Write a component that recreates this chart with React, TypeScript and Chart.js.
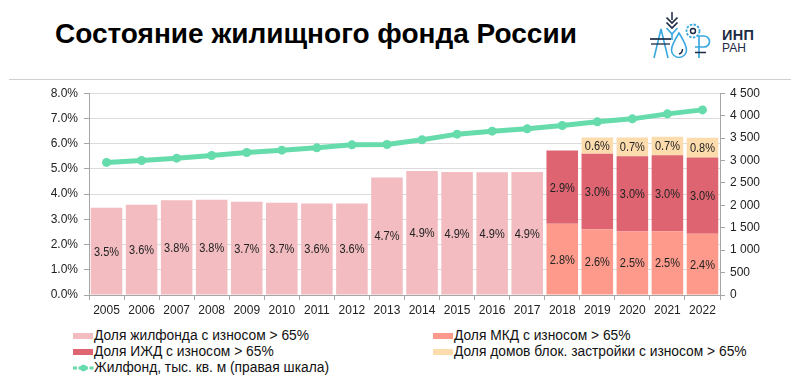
import React, { useEffect, useRef } from "react";
import { Chart, registerables } from "chart.js";

Chart.register(...registerables);

const years = ["2005","2006","2007","2008","2009","2010","2011","2012","2013","2014","2015","2016","2017","2018","2019","2020","2021","2022"];
const shareTotal = [3.46, 3.58, 3.76, 3.78, 3.70, 3.66, 3.63, 3.63, 4.66, 4.92, 4.88, 4.87, 4.88, null, null, null, null, null];
const shareMKD = [null, null, null, null, null, null, null, null, null, null, null, null, null, 2.82, 2.61, 2.52, 2.53, 2.43];
const shareIZD = [null, null, null, null, null, null, null, null, null, null, null, null, null, 2.91, 2.99, 2.98, 3.01, 3.02];
const shareBlock = [null, null, null, null, null, null, null, null, null, null, null, null, null, null, 0.64, 0.74, 0.73, 0.78];
const housingStock = [2956, 3000, 3052, 3112, 3178, 3230, 3282, 3349, 3356, 3460, 3587, 3653, 3705, 3780, 3861, 3928, 4039, 4128];

const leftTicks = [0, 1, 2, 3, 4, 5, 6, 7, 8];
const rightTicks = [0, 500, 1000, 1500, 2000, 2500, 3000, 3500, 4000, 4500];

const labelNames = [
  "Доля жилфонда с износом > 65%",
  "Доля МКД с износом > 65%",
  "Доля ИЖД с износом > 65%",
  "Доля домов блок. застройки с износом > 65%",
  "Жилфонд, тыс. кв. м (правая шкала)",
];

const COLORS = {
  total: "#f2bcc1",
  mkd: "#fd9a8b",
  izd: "#dd6470",
  block: "#fcdbad",
  line: "#66dbab",
};

const SANS = "'Liberation Sans', Arial, sans-serif";

const barLabelPlugin = {
  id: "barLabels",
  afterDatasetsDraw(chart: any) {
    const ctx = chart.ctx;
    chart.data.datasets.forEach((ds: any, di: number) => {
      if (ds.type !== "bar") return;
      const meta = chart.getDatasetMeta(di);
      meta.data.forEach((el: any, i: number) => {
        const v = ds.data[i];
        if (v == null) return;
        const y = (el.y + el.base) / 2 + 1;
        ctx.save();
        ctx.font = `12.5px ${SANS}`;
        ctx.fillStyle = "#222";
        ctx.textAlign = "center";
        ctx.textBaseline = "middle";
        ctx.translate(el.x, y);
        ctx.scale(0.88, 1);
        ctx.fillText(v.toFixed(1) + "%", 0, 0);
        ctx.restore();
      });
    });
  },
};

function ChartCanvas() {
  const ref = useRef<HTMLCanvasElement>(null);
  useEffect(() => {
    const canvas = ref.current!;
    const chart = new Chart(canvas, {
      type: "bar",
      data: {
        labels: years,
        datasets: [
          { type: "line", label: labelNames[4], data: housingStock, yAxisID: "y2", borderColor: COLORS.line, backgroundColor: COLORS.line, borderWidth: 5, pointRadius: 4.5, pointBackgroundColor: COLORS.line, pointBorderWidth: 0, order: 0, tension: 0 } as any,
          { type: "bar", label: labelNames[0], data: shareTotal, backgroundColor: COLORS.total, yAxisID: "y", stack: "s", order: 1, barPercentage: 0.9, categoryPercentage: 1 } as any,
          { type: "bar", label: labelNames[1], data: shareMKD, backgroundColor: COLORS.mkd, yAxisID: "y", stack: "s", order: 1, barPercentage: 0.9, categoryPercentage: 1 } as any,
          { type: "bar", label: labelNames[2], data: shareIZD, backgroundColor: COLORS.izd, yAxisID: "y", stack: "s", order: 1, barPercentage: 0.9, categoryPercentage: 1 } as any,
          { type: "bar", label: labelNames[3], data: shareBlock, backgroundColor: COLORS.block, yAxisID: "y", stack: "s", order: 1, barPercentage: 0.9, categoryPercentage: 1 } as any,
        ],
      },
      options: {
        responsive: false,
        animation: false,
        layout: { padding: { top: 13, left: 0, right: 0, bottom: 0 } },
        plugins: { legend: { display: false }, tooltip: { enabled: false } },
        scales: {
          x: {
            stacked: true,
            offset: true,
            grid: { offset: true, drawOnChartArea: false, tickLength: 5, color: "#a6a6a6" },
            border: { color: "#a6a6a6" },
            ticks: { color: "#222", font: { family: SANS, size: 12 }, padding: 3, maxRotation: 0, autoSkip: false },
            afterFit: (s: any) => { s.height = 25; },
          },
          y: {
            position: "left",
            stacked: true,
            min: 0,
            max: 8,
            afterBuildTicks: (s: any) => { s.ticks = leftTicks.map((v) => ({ value: v })); },
            ticks: { color: "#222", font: { family: SANS, size: 12 }, padding: 6, callback: (v: any) => Number(v).toFixed(1) + "%" },
            grid: { color: "#dcdcdc", tickLength: 5, tickColor: "#a6a6a6" },
            border: { color: "#a6a6a6" },
            afterFit: (s: any) => { s.width = 89; },
          },
          y2: {
            position: "right",
            stacked: false,
            min: 0,
            max: 4500,
            afterBuildTicks: (s: any) => { s.ticks = rightTicks.map((v) => ({ value: v })); },
            ticks: { color: "#222", font: { family: SANS, size: 12 }, padding: 5, callback: (v: any) => String(v).replace(/\B(?=(\d{3})+(?!\d))/g, " ") },
            grid: { drawOnChartArea: false, tickLength: 5, color: "#a6a6a6" },
            border: { color: "#a6a6a6" },
            afterFit: (s: any) => { s.width = 80; },
          },
        },
      },
      plugins: [barLabelPlugin],
    } as any);
    return () => chart.destroy();
  }, []);
  return <canvas ref={ref} width={800} height={240} style={{ position: "absolute", left: 0, top: 80, width: 800, height: 240 }} />;
}

function Swatch({ color }: { color: string }) {
  return <span style={{ display: "inline-block", width: 20, height: 6, background: color, marginRight: 1 }} />;
}

function LineSwatch() {
  return (
    <svg width={21} height={8} style={{ display: "block" }}>
      <line x1={0} y1={4} x2={21} y2={4} stroke={COLORS.line} strokeWidth={3} strokeDasharray="4 1.5" />
      <circle cx={10.5} cy={4} r={3.3} fill={COLORS.line} />
    </svg>
  );
}

function Logo() {
  const blue = "#3aa8e0";
  const dark = "#1d2a44";
  return (
    <div style={{ position: "absolute", left: 645, top: 9, width: 150, height: 65 }}>
      <svg width={70} height={62} style={{ position: "absolute", left: 0, top: 0 }}>
        {/* chevrons */}
        <line x1={27} y1={3} x2={27} y2={11} stroke={dark} strokeWidth={1.5} />
        <polyline points="21.5,8.5 27,14 32.5,8.5" fill="none" stroke={dark} strokeWidth={1.7} />
        <polyline points="21.5,13.5 27,19 32.5,13.5" fill="none" stroke={dark} strokeWidth={1.7} />
        {/* Y shape */}
        <polyline points="21.5,19 27,25 32.5,19" fill="none" stroke={blue} strokeWidth={1.6} />
        <line x1={27} y1={25} x2={27} y2={31} stroke={blue} strokeWidth={1.6} />
        {/* gear */}
        <circle cx={48} cy={22} r={6.5} fill="none" stroke={blue} strokeWidth={1.8} strokeDasharray="2.5 1.3" />
        <circle cx={48} cy={22} r={2.5} fill="none" stroke={dark} strokeWidth={1.4} />
        {/* A / Д shape */}
        <polyline points="9,49 16,20 23,49" fill="none" stroke={blue} strokeWidth={1.6} />
        <line x1={5} y1={30} x2={26} y2={30} stroke={dark} strokeWidth={1.7} />
        <line x1={6} y1={35} x2={25} y2={35} stroke={dark} strokeWidth={1.3} />
        {/* drop */}
        <path d="M34 24 C 29 32, 26.5 37, 26.5 41 A 7.5 7.5 0 0 0 41.5 41 C 41.5 37, 39 32, 34 24 Z" fill="none" stroke={blue} strokeWidth={1.6} />
        <path d="M34 45 Q 37.5 44, 37.5 40" fill="none" stroke={dark} strokeWidth={1.4} />
        {/* ruble */}
        <path d="M54 49 L54 27 L59 27 A 5.5 5.5 0 0 1 59 38 L50 38" fill="none" stroke={blue} strokeWidth={1.7} />
        <line x1={50} y1={43.5} x2={61} y2={43.5} stroke={dark} strokeWidth={1.5} />
      </svg>
      <div style={{ position: "absolute", left: 77, top: 19, fontFamily: SANS, fontWeight: 700, fontSize: 14.5, color: dark, lineHeight: "15px", letterSpacing: 0.3 }}>ИНП</div>
      <div style={{ position: "absolute", left: 77, top: 33, fontFamily: SANS, fontSize: 12, color: dark, lineHeight: "13px" }}>РАН</div>
    </div>
  );
}

export default function App() {
  const legendText: React.CSSProperties = { fontFamily: SANS, fontSize: 13.8, color: "#111", whiteSpace: "nowrap" };
  const row = (left: number, top: number, sw: React.ReactNode, text: string) => (
    <div style={{ position: "absolute", left, top, height: 18, lineHeight: "18px", display: "flex", alignItems: "center" }}>
      {sw}
      <span style={legendText}>{text}</span>
    </div>
  );
  return (
    <div style={{ position: "absolute", left: 0, top: 0, width: 800, height: 389, background: "#fff", overflow: "hidden" }}>
      <div style={{ position: "absolute", left: 55, top: 17, fontFamily: SANS, fontWeight: 700, fontSize: 28, color: "#000", lineHeight: "34px", whiteSpace: "nowrap" }}>
        Состояние жилищного фонда России
      </div>
      <Logo />
      <div style={{ position: "absolute", left: 9, top: 79, width: 782, height: 1, background: "#d0d0d0" }} />
      <ChartCanvas />
      {row(73, 327, <Swatch color={COLORS.total} />, labelNames[0])}
      {row(433, 327, <Swatch color={COLORS.mkd} />, labelNames[1])}
      {row(73, 343, <Swatch color={COLORS.izd} />, labelNames[2])}
      {row(433, 343, <Swatch color={COLORS.block} />, labelNames[3])}
      {row(73, 359, <LineSwatch />, labelNames[4])}
    </div>
  );
}
